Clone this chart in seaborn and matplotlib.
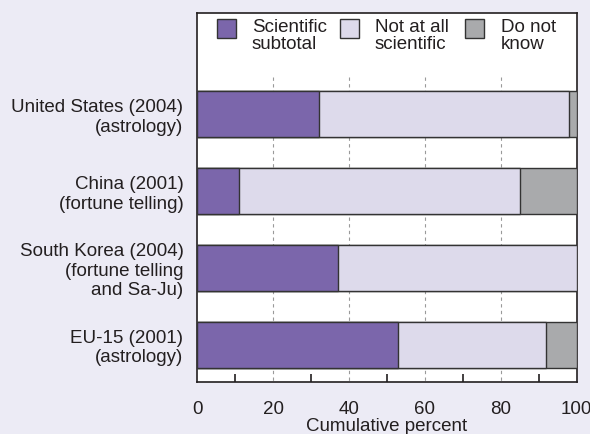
import matplotlib
matplotlib.use("Agg")
import matplotlib.pyplot as plt
from matplotlib.patches import Rectangle
from matplotlib.ticker import MultipleLocator
import numpy as np
import pandas as pd
import seaborn as sns

# data
countries = [
    "United States (2004)\n(astrology)",
    "China (2001)\n(fortune telling)",
    "South Korea (2004)\n(fortune telling\nand Sa-Ju)",
    "EU-15 (2001)\n(astrology)",
]
scientific = [32, 11, 37, 53]
not_scientific = [66, 74, 63, 39]
dont_know = [2, 15, 0, 8]

series_names = ["Scientific\nsubtotal", "Not at all\nscientific", "Do not\nknow"]
colors = ["#7b66ab", "#dddaeb", "#a9aaac"]
BG = "#ecebf5"
TXT = "#231f20"
FS = 13.5

sns.set_theme(style="white")
plt.rcParams["font.family"] = ["Liberation Sans", "DejaVu Sans"]

df = pd.DataFrame({
    "country": countries,
    "sci": scientific,
    "not": not_scientific,
    "dk": dont_know,
})
df["cum_sci"] = df["sci"]
df["cum_not"] = df["sci"] + df["not"]
df["cum_dk"] = df["cum_not"] + df["dk"]

fig = plt.figure(figsize=(5.9, 4.34), dpi=100, facecolor=BG)
ax = fig.add_axes([0.3345, 0.12, 0.643, 0.85])
ax.set_facecolor("white")

# stacked bars drawn as overlapping cumulative totals, longest first
for col, c in zip(["cum_dk", "cum_not", "cum_sci"], colors[::-1]):
    sns.barplot(data=df, x=col, y="country", orient="h", color=c, width=0.6,
                edgecolor="#333333", linewidth=1.0, saturation=1, ax=ax, zorder=3)

ax.set_xlim(0, 100)
ax.set_ylim(3.487, -1.323)

# dashed grid below the legend strip only
ax.vlines([20, 40, 60, 80], -0.49, 3.487, colors="#9a9a9a", linestyles=(0, (3, 3)),
          linewidth=0.8, zorder=1)

ax.xaxis.set_major_locator(MultipleLocator(20))
ax.xaxis.set_minor_locator(MultipleLocator(10))
ax.tick_params(axis="x", which="major", length=0, labelsize=FS, pad=14, colors=TXT)
ax.tick_params(axis="x", which="minor", direction="in", length=6, width=1.2,
               bottom=True, color=TXT)
ax.tick_params(axis="y", length=0, labelsize=FS, pad=10, colors=TXT)
for lbl in ax.get_yticklabels():
    lbl.set_horizontalalignment("right")
    lbl.set_multialignment("right")
    lbl.set_linespacing(1.2)

ax.set_xlabel("Cumulative percent", fontsize=FS, labelpad=0, color=TXT)
ax.set_ylabel("")

for s in ax.spines.values():
    s.set_visible(True)
    s.set_color(TXT)
    s.set_linewidth(1.2)

# legend row at the top of the plot, squares aligned with the first text line
sq_x = [0.0517, 0.3757, 0.7053]
txt_x = [0.1439, 0.4681, 0.8002]
for name, c, sx, tx in zip(series_names, colors, sq_x, txt_x):
    ax.add_patch(Rectangle((sx, 0.9322), 0.050, 0.0515, transform=ax.transAxes,
                           facecolor=c, edgecolor="#333333", linewidth=1.0,
                           clip_on=False, zorder=5))
    ax.text(tx, 0.9377, name, transform=ax.transAxes, fontsize=FS, color=TXT,
            ha="left", va="center", linespacing=1.0, zorder=5)

fig.savefig("out.png", dpi=100, facecolor=BG)
